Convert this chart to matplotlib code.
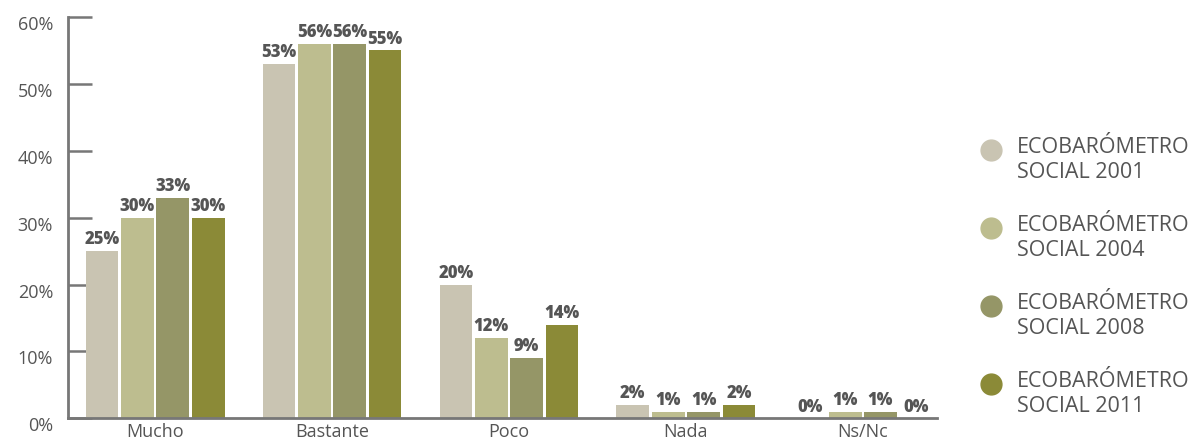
import matplotlib.pyplot as plt
import matplotlib.transforms as mtransforms
import numpy as np
from matplotlib.lines import Line2D

# data
categories = ["Mucho", "Bastante", "Poco", "Nada", "Ns/Nc"]
series_labels = ["ECOBARÓMETRO\nSOCIAL 2001", "ECOBARÓMETRO\nSOCIAL 2004",
                 "ECOBARÓMETRO\nSOCIAL 2008", "ECOBARÓMETRO\nSOCIAL 2011"]
values_2001 = [25, 53, 20, 2, 0]
values_2004 = [30, 56, 12, 1, 1]
values_2008 = [33, 56, 9, 1, 1]
values_2011 = [30, 55, 14, 2, 0]
yticks = [0, 10, 20, 30, 40, 50, 60]

series = [values_2001, values_2004, values_2008, values_2011]
colors = ["#c9c4b2", "#bdbd8f", "#959667", "#8b8a37"]
grey = "#777777"
text_col = "#555555"

plt.rcParams["font.family"] = ["Open Sans", "DejaVu Sans"]

fig = plt.figure(figsize=(12, 4.46), dpi=100)
ax = fig.add_axes([0.057, 0.062, 0.724, 0.9])

x = np.arange(len(categories))
width = 0.185
step = 0.2
for i, vals in enumerate(series):
    bars = ax.bar(x + (i - 1.5) * step, vals, width, color=colors[i], zorder=2)
    ax.bar_label(bars, labels=[f"{v}%" for v in vals], padding=2,
                 fontsize=12, fontweight="heavy", color=text_col)

ax.set_xlim(-0.49, 4.42)
ax.set_ylim(0, 60)
ax.set_yticks(yticks)
ax.set_yticklabels([f"{t}%" for t in yticks], fontsize=13, color=text_col)
ax.set_xticks(x)
ax.set_xticklabels(categories, fontsize=13, color=text_col)
ax.tick_params(axis="y", direction="in", length=17, width=1.8, color=grey, pad=11)
ax.tick_params(axis="x", length=0, pad=3)
for s in ["top", "right"]:
    ax.spines[s].set_visible(False)
for s in ["left", "bottom"]:
    ax.spines[s].set_color(grey)
    ax.spines[s].set_linewidth(2)

# y labels sit a little below their ticks in the reference
shift = mtransforms.ScaledTranslation(0, -6 / 100, fig.dpi_scale_trans)
for lab in ax.get_yticklabels():
    lab.set_transform(lab.get_transform() + shift)

# legend drawn by hand so the dot sits level with the first line
for i, lab in enumerate(series_labels):
    ytop = 1 - (137 + i * 78) / 446
    fig.text(1017 / 1200, ytop, lab, fontsize=15.5, color=text_col,
             va="top", ha="left", linespacing=1.25)
    fig.add_artist(Line2D([991 / 1200], [1 - (150 + i * 78) / 446],
                          marker="o", markersize=15, color=colors[i],
                          linestyle="none", transform=fig.transFigure))

fig.savefig("out.png", dpi=100)
